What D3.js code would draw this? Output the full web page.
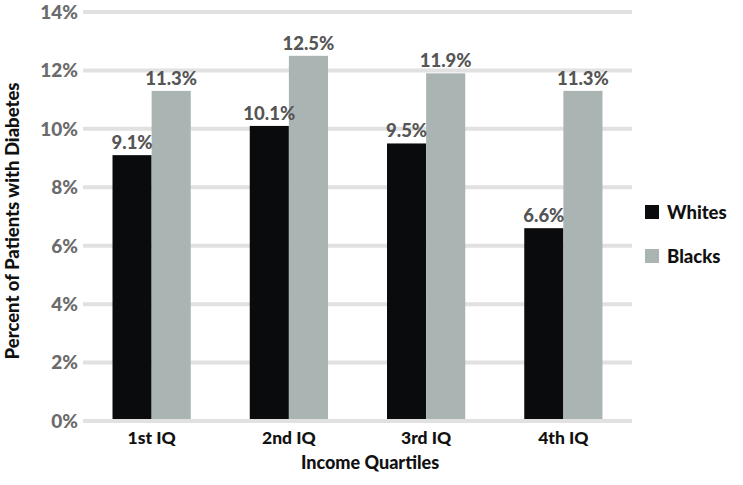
<!DOCTYPE html>
<html>
<head>
<meta charset="utf-8">
<script src="https://cdn.jsdelivr.net/npm/d3@7"></script>
<style>
  body { margin: 0; background: #fff; }
  text { font-family: Lato, "Open Sans", sans-serif; font-weight: 900; }
</style>
</head>
<body>
<div class="chart"></div>
<script>
// values
const quartiles = ["1st IQ", "2nd IQ", "3rd IQ", "4th IQ"];
const groups = ["Whites", "Blacks"];
const whites = [9.1, 10.1, 9.5, 6.6];
const blacks = [11.3, 12.5, 11.9, 11.3];
const yTicks = [0, 2, 4, 6, 8, 10, 12, 14];

const width = 743, height = 485;
const margin = {top: 12, right: 111, bottom: 64, left: 83};

const svg = d3.select(".chart").append("svg")
  .attr("width", width)
  .attr("height", height);

const x = d3.scaleBand()
  .domain(quartiles)
  .range([margin.left, width - margin.right])
  .paddingInner(0.43)
  .paddingOuter(0.215);

const x1 = d3.scaleBand()
  .domain(groups)
  .range([0, x.bandwidth()]);

const y = d3.scaleLinear()
  .domain([0, 14])
  .range([height - margin.bottom, margin.top]);

const color = d3.scaleOrdinal().domain(groups).range(["#0a0b0d", "#aab4b3"]);

// gridlines
svg.append("g").selectAll("line")
  .data(yTicks)
  .join("line")
  .attr("x1", margin.left)
  .attr("x2", width - margin.right)
  .attr("y1", d => y(d))
  .attr("y2", d => y(d))
  .attr("stroke", "#e1e1e1")
  .attr("stroke-width", 4);

// y tick labels
svg.append("g").selectAll("text")
  .data(yTicks)
  .join("text")
  .attr("x", margin.left - 5)
  .attr("y", d => y(d))
  .attr("dy", "0.36em")
  .attr("text-anchor", "end")
  .attr("fill", "#6b6b6b")
  .style("font-size", "19px")
  .text(d => d + "%");

const rows = quartiles.map((q, i) => ({q, vals: [
  {g: "Whites", v: whites[i]},
  {g: "Blacks", v: blacks[i]}
]}));

const cat = svg.append("g").selectAll("g")
  .data(rows)
  .join("g")
  .attr("transform", d => `translate(${x(d.q)},0)`);

cat.selectAll("rect")
  .data(d => d.vals)
  .join("rect")
  .attr("x", d => x1(d.g))
  .attr("width", x1.bandwidth())
  .attr("y", d => y(d.v))
  .attr("height", d => y(0) - y(d.v) - 2)
  .attr("fill", d => color(d.g));

cat.selectAll("text")
  .data(d => d.vals)
  .join("text")
  .attr("x", d => x1(d.g) + x1.bandwidth() / 2)
  .attr("y", d => y(d.v) - 6)
  .attr("text-anchor", "middle")
  .attr("fill", "#555")
  .style("font-size", "18.5px")
  .text(d => d.v.toFixed(1) + "%");

// category labels
svg.append("g").selectAll("text")
  .data(quartiles)
  .join("text")
  .attr("x", d => x(d) + x.bandwidth() / 2)
  .attr("y", y(0) + 23)
  .attr("text-anchor", "middle")
  .attr("fill", "#111")
  .style("font-size", "17.5px")
  .text(d => d);

// axis titles
svg.append("text")
  .attr("x", 370)
  .attr("y", 469)
  .attr("text-anchor", "middle")
  .attr("fill", "#111")
  .style("font-size", "18px")
  .text("Income Quartiles");

svg.append("text")
  .attr("transform", "translate(19,221) rotate(-90)")
  .attr("text-anchor", "middle")
  .attr("fill", "#111")
  .style("font-size", "18.5px")
  .text("Percent of Patients with Diabetes");

// legend
const legend = svg.append("g")
  .attr("transform", "translate(645,205)");

const item = legend.selectAll("g")
  .data(groups)
  .join("g")
  .attr("transform", (d, i) => `translate(0,${i * 44})`);

item.append("rect")
  .attr("width", 14)
  .attr("height", 14)
  .attr("fill", d => color(d));

item.append("text")
  .attr("x", 22)
  .attr("y", 14)
  .attr("fill", "#111")
  .style("font-size", "18.5px")
  .text(d => d);
</script>
</body>
</html>
